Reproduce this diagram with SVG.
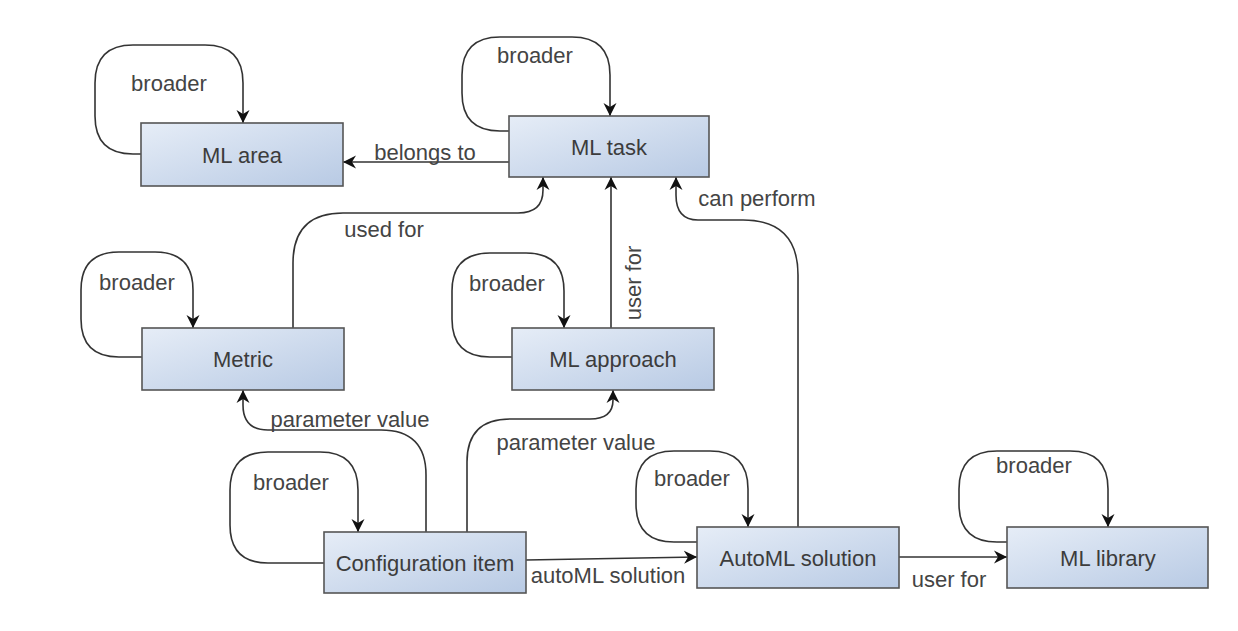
<svg xmlns="http://www.w3.org/2000/svg" width="1238" height="631" viewBox="0 0 1238 631">
<style>
.box{fill:url(#g);stroke:#555;stroke-width:1.6}
.nt{font-family:"Liberation Sans",Arial,sans-serif;font-size:22px;fill:#3c3c3c;text-anchor:middle;dominant-baseline:central}
.lt{font-family:"Liberation Sans",Arial,sans-serif;font-size:22px;fill:#444;text-anchor:middle;dominant-baseline:central}
.c{fill:none;stroke:#333;stroke-width:1.6;marker-end:url(#a)}
</style>
<defs>
<linearGradient id="g" x1="0" y1="0" x2="1" y2="1">
<stop offset="0" stop-color="#e6edf7"/>
<stop offset="1" stop-color="#b8cae4"/>
</linearGradient>
<marker id="a" markerUnits="userSpaceOnUse" markerWidth="14" markerHeight="14" viewBox="0 0 14 14" refX="13" refY="7" orient="auto">
<path d="M0,0.5 L13,7 L0,13.5 L4,7 Z" fill="#111"/>
</marker>
</defs>
<g id="connectors">
<path class="c" d="M141,154 H133 Q95,154 95,116 V83 Q95,45 133,45 H205 Q243,45 243,83 V123"/>
<path class="c" d="M509,131 H500 Q462,131 462,93 V75 Q462,37 500,37 H572 Q610,37 610,75 V116"/>
<path class="c" d="M142,357 H119 Q81,357 81,319 V290 Q81,252 119,252 H155 Q193,252 193,290 V328"/>
<path class="c" d="M512,357 H490 Q452,357 452,319 V291 Q452,253 490,253 H526 Q564,253 564,291 V328"/>
<path class="c" d="M324,563 H268 Q230,563 230,525 V490 Q230,452 268,452 H320 Q358,452 358,490 V532"/>
<path class="c" d="M697,542 H674 Q636,542 636,504 V489 Q636,451 674,451 H710 Q748,451 748,489 V527"/>
<path class="c" d="M1007,542 H997 Q959,542 959,504 V489 Q959,451 997,451 H1070 Q1108,451 1108,489 V527"/>
<path class="c" d="M509,162 H343"/>
<path class="c" d="M293,328 V263 Q293,213 343,213 H518 Q543,213 543,190 V177"/>
<path class="c" d="M611,328 V177"/>
<path class="c" d="M798,527 V275 Q798,220 743,220 H698 Q676,220 676,195 V177"/>
<path class="c" d="M426,532 V475 Q426,430 381,430 H268 Q243,430 243,405 V390"/>
<path class="c" d="M467,532 V462 Q467,419 510,419 H590 Q613,419 613,400 V390"/>
<path class="c" d="M526,560 L697,557"/>
<path class="c" d="M899,557 H1007"/>
<text class="lt" x="169" y="83">broader</text>
<text class="lt" x="535" y="55">broader</text>
<text class="lt" x="137" y="282">broader</text>
<text class="lt" x="507" y="283">broader</text>
<text class="lt" x="291" y="482">broader</text>
<text class="lt" x="692" y="478">broader</text>
<text class="lt" x="1034" y="465">broader</text>
<text class="lt" x="425" y="152">belongs to</text>
<text class="lt" x="384" y="229">used for</text>
<text class="lt" transform="translate(633,283) rotate(-90)">user for</text>
<text class="lt" x="757" y="198">can perform</text>
<text class="lt" x="350" y="419">parameter value</text>
<text class="lt" x="576" y="442">parameter value</text>
<text class="lt" x="608" y="575">autoML solution</text>
<text class="lt" x="949" y="579">user for</text>
</g>
<g id="ml-area"><rect class="box" x="141" y="123" width="202" height="63"/><text class="nt" x="242" y="155">ML area</text></g>
<g id="ml-task"><rect class="box" x="509" y="116" width="200" height="61"/><text class="nt" x="609" y="147">ML task</text></g>
<g id="metric"><rect class="box" x="142" y="328" width="202" height="62"/><text class="nt" x="243" y="359">Metric</text></g>
<g id="ml-approach"><rect class="box" x="512" y="328" width="202" height="62"/><text class="nt" x="613" y="359">ML approach</text></g>
<g id="configuration-item"><rect class="box" x="324" y="532" width="202" height="61"/><text class="nt" x="425" y="563">Configuration item</text></g>
<g id="automl-solution"><rect class="box" x="697" y="527" width="202" height="61"/><text class="nt" x="798" y="558">AutoML solution</text></g>
<g id="ml-library"><rect class="box" x="1007" y="527" width="201" height="61"/><text class="nt" x="1108" y="558">ML library</text></g>
</svg>
